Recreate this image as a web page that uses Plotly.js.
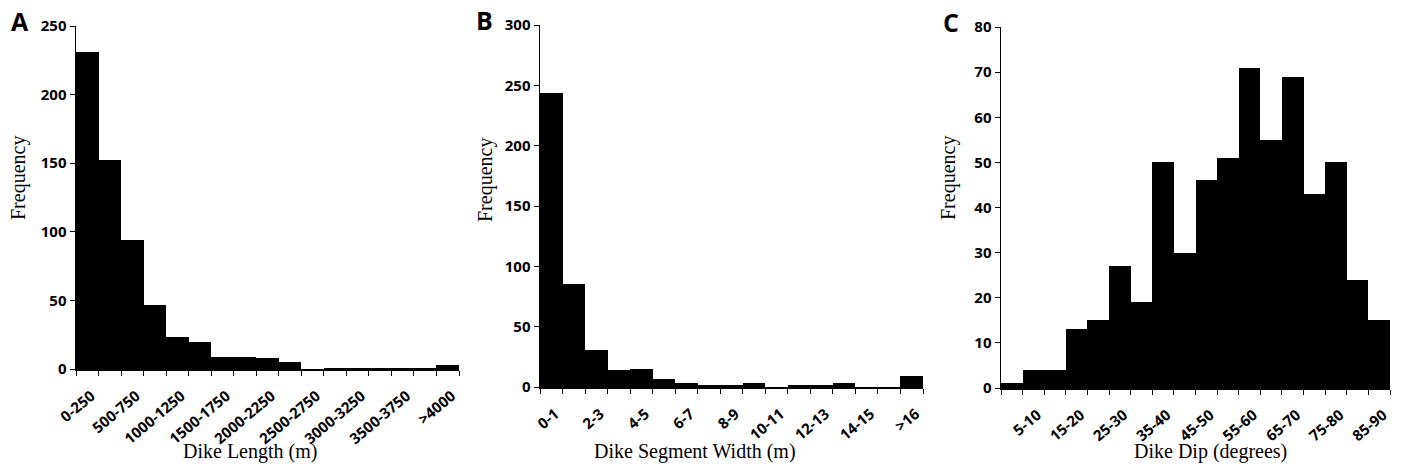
<!DOCTYPE html>
<html><head><meta charset="utf-8">
<script src="https://cdn.plot.ly/plotly-3.0.1.min.js"></script>
<style>html,body{margin:0;padding:0;background:#fff}#chart{width:1402px;height:470px}</style>
</head><body><div id="chart"></div>
<script>
// Panel A: Dike length (m)
const lengthBins = ["0-250","250-500","500-750","750-1000","1000-1250","1250-1500","1500-1750","1750-2000","2000-2250","2250-2500","2500-2750","2750-3000","3000-3250","3250-3500","3500-3750","3750-4000",">4000"];
const lengthFreq = [231,152,94,47,23,20,9,9,8,5,0,1,1,1,1,1,3];
// Panel B: Dike segment width (m)
const widthBins = ["0-1","1-2","2-3","3-4","4-5","5-6","6-7","7-8","8-9","9-10","10-11","11-12","12-13","13-14","14-15","15-16",">16"];
const widthFreq = [244,85,31,14,15,7,3,2,2,3,0,2,2,3,0,0,9];
// Panel C: Dike dip (degrees)
const dipBins = ["0-5","5-10","10-15","15-20","20-25","25-30","30-35","35-40","40-45","45-50","50-55","55-60","60-65","65-70","70-75","75-80","80-85","85-90"];
const dipFreq = [1,4,4,13,15,27,19,50,30,46,51,71,55,69,43,50,24,15];

const W = 1402, H = 470;
const px = v => v / W, py = v => 1 - v / H;
const tickFont = {family: "Open Sans, sans-serif", size: 15, color: "#000", weight: "bold"};
const titleFont = {family: "Liberation Serif, Times New Roman, serif", size: 20, color: "#000"};
const letterFont = {family: "Open Sans, sans-serif", size: 25, color: "#000", weight: "bold"};

function xAxis(cats, labelIdx, dom, anchor) {
  const idx = cats.map((_, i) => i);
  return {
    domain: dom, range: [-0.5, cats.length - 0.5], fixedrange: true, anchor: anchor,
    tickmode: "array", tickvals: labelIdx, ticktext: labelIdx.map(i => cats[i]),
    ticks: "outside", ticklen: 11, tickcolor: "rgba(0,0,0,0)", tickangle: -40, tickfont: tickFont,
    ticklabelshift: 4,
    showline: true, linecolor: "#000", linewidth: 1.5, showgrid: false, zeroline: false,
    minor: {tickmode: "array", tickvals: idx.concat([cats.length]).map(i => i - 0.5), ticks: "outside", ticklen: 5, tickcolor: "#000", tickwidth: 1, showgrid: false},
    automargin: false
  };
}
function yAxis(max, dt, dom, anchor) {
  return {
    domain: dom, range: [0, max], dtick: dt, tick0: 0, fixedrange: true,
    ticks: "outside", ticklen: 5, tickcolor: "#000", tickwidth: 1, tickfont: tickFont,
    showline: true, linecolor: "#000", linewidth: 1.5, showgrid: false, zeroline: false,
    anchor: anchor, automargin: false
  };
}
function evens(n, start) { const a = []; for (let i = start; i < n; i += 2) a.push(i); return a; }
function ann(text, x, y, font, angle) {
  return {text: text, x: px(x), y: py(y), xref: "paper", yref: "paper", xanchor: "center", yanchor: "middle", showarrow: false, textangle: angle || 0, font: font};
}

const barStyle = {color: "#000", line: {color: "#000", width: 0}};
const data = [
  {type: "bar", x: lengthBins.map((_, i) => i), y: lengthFreq, xaxis: "x", yaxis: "y", marker: barStyle},
  {type: "bar", x: widthBins.map((_, i) => i), y: widthFreq, xaxis: "x2", yaxis: "y2", marker: barStyle},
  {type: "bar", x: dipBins.map((_, i) => i), y: dipFreq, xaxis: "x3", yaxis: "y3", marker: barStyle}
];

const layout = {
  width: W, height: H, margin: {l: 0, r: 0, t: 0, b: 0},
  paper_bgcolor: "#fff", plot_bgcolor: "#fff", showlegend: false, bargap: 0,
  xaxis: xAxis(lengthBins, evens(lengthBins.length, 0), [px(76), px(459)], "y"),
  yaxis: yAxis(250, 50, [py(369), py(26)], "x"),
  xaxis2: xAxis(widthBins, evens(widthBins.length, 0), [px(540), px(923)], "y2"),
  yaxis2: yAxis(300, 50, [py(387), py(25)], "x2"),
  xaxis3: xAxis(dipBins, evens(dipBins.length, 1), [px(1001), px(1390)], "y3"),
  yaxis3: yAxis(80, 10, [py(388), py(27)], "x3"),
  annotations: [
    ann("A", 20, 21, letterFont),
    ann("B", 484, 20, letterFont),
    ann("C", 951, 22, letterFont),
    ann("Frequency", 18, 178, titleFont, -90),
    ann("Frequency", 485, 180, titleFont, -90),
    ann("Frequency", 948, 178, titleFont, -90),
    ann("Dike Length (m)", 250, 451, titleFont),
    ann("Dike Segment Width (m)", 695, 451, titleFont),
    ann("Dike Dip (degrees)", 1210, 451, titleFont)
  ]
};
Plotly.newPlot("chart", data, layout, {staticPlot: true, displayModeBar: false});
</script></body></html>
